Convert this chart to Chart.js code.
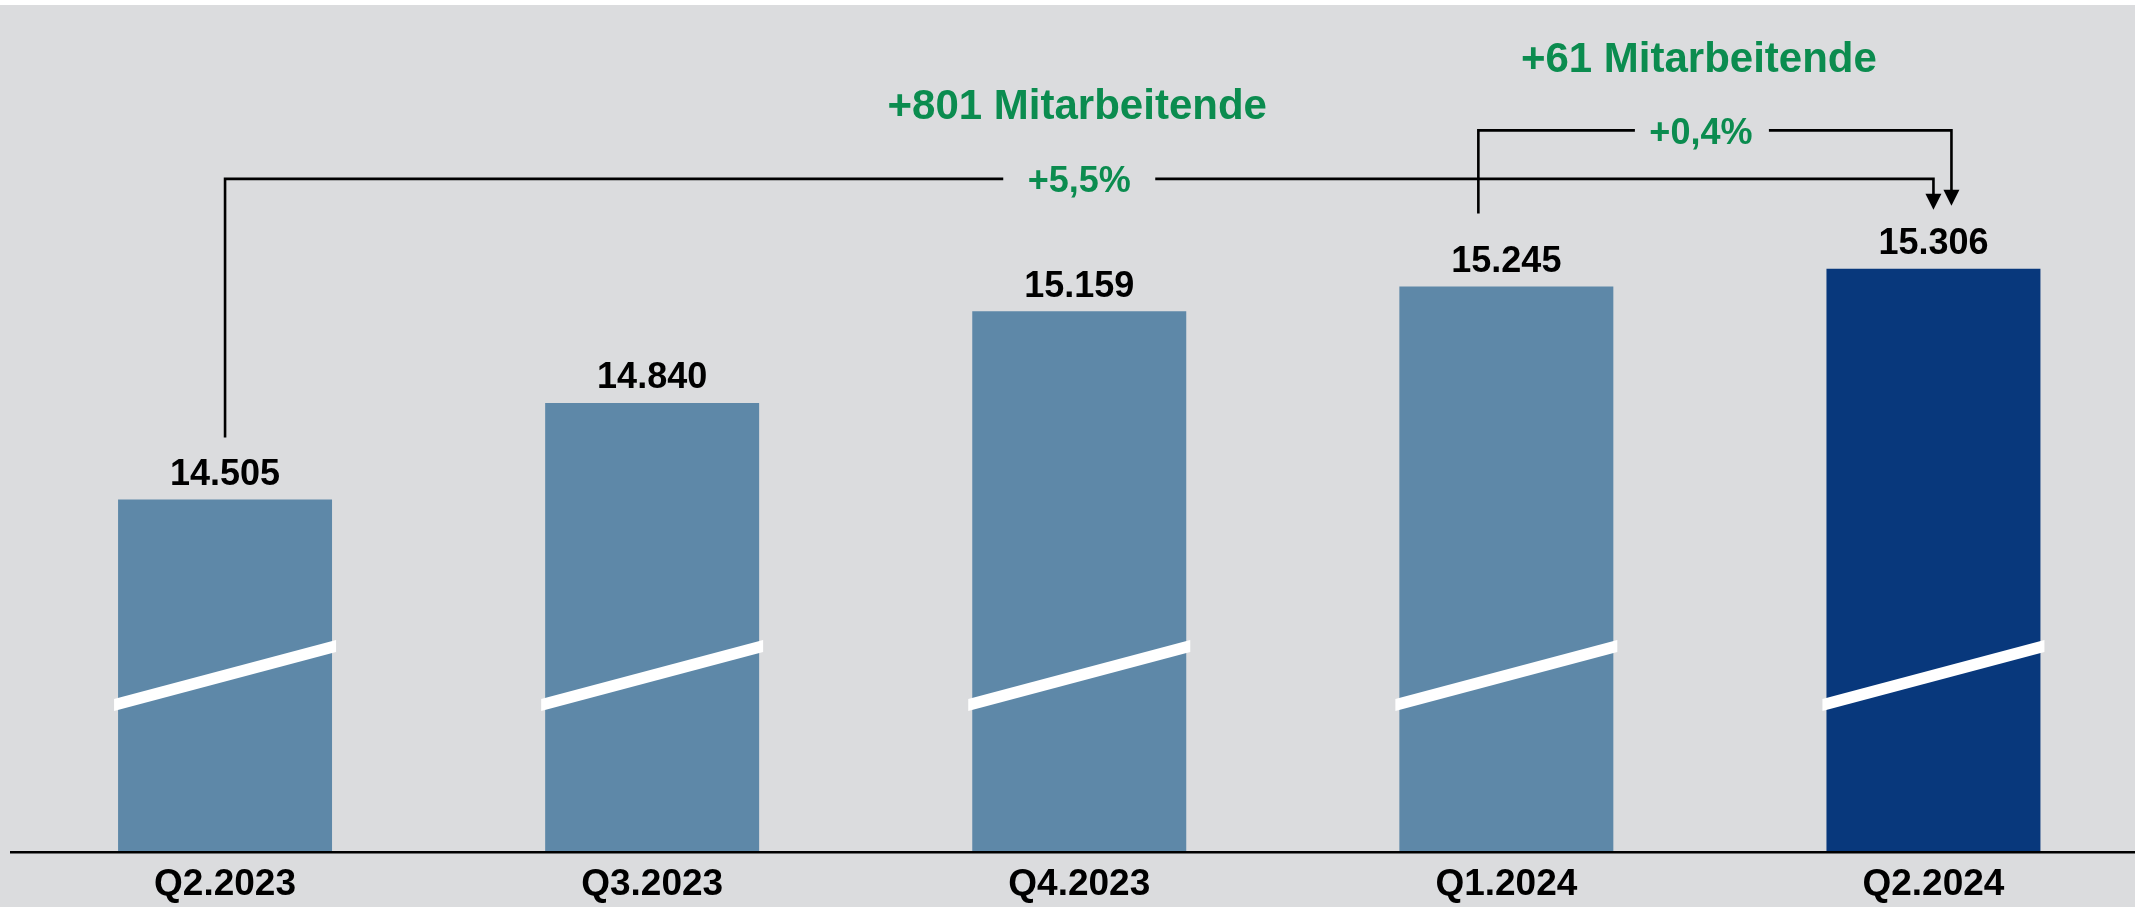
<!DOCTYPE html>
<html>
<head>
<meta charset="utf-8">
<script src="https://cdn.jsdelivr.net/npm/chart.js@4.4.0/dist/chart.umd.min.js"></script>
<style>
html, body { margin: 0; padding: 0; overflow: hidden; background: #DBDCDE; }
canvas { display: block; }
</style>
</head>
<body>
<canvas id="myChart" width="2147" height="918"></canvas>
<script>
const quarters = ['Q2.2023', 'Q3.2023', 'Q4.2023', 'Q1.2024', 'Q2.2024'];
const employees = [14505, 14840, 15159, 15245, 15306];
const barColors = ['#5E88A8', '#5E88A8', '#5E88A8', '#5E88A8', '#08387C'];
// axis is broken (white slashes), bars start well above zero
const yMin = 13280;
const yMax = 16240;

const green = '#0B8C4F';
const family = "'Liberation Sans', Arial, sans-serif";

function fmtInt(n) {
    return String(n).replace(/\B(?=(\d{3})+(?!\d))/g, '.');
}
function fmtPct(a, b) {
    return '+' + ((b - a) / a * 100).toFixed(1).replace('.', ',') + '%';
}

const bgPlugin = {
    id: 'bg',
    beforeDraw(chart) {
        const ctx = chart.ctx;
        ctx.save();
        ctx.fillStyle = '#fff';
        ctx.fillRect(0, 0, chart.width, 5);
        ctx.fillStyle = '#DBDCDE';
        ctx.fillRect(0, 5, chart.width, chart.height - 5);
        ctx.restore();
    }
};

function arrowHead(ctx, x, tipY) {
    ctx.beginPath();
    ctx.moveTo(x - 8, tipY - 16);
    ctx.lineTo(x + 8, tipY - 16);
    ctx.lineTo(x, tipY);
    ctx.closePath();
    ctx.fill();
}

const extras = {
    id: 'extras',
    afterDatasetsDraw(chart) {
        const ctx = chart.ctx;
        const bars = chart.getDatasetMeta(0).data;
        const bottom = chart.chartArea.bottom;
        ctx.save();

        // break marks
        ctx.fillStyle = '#fff';
        bars.forEach(b => {
            const l = b.x - b.width / 2 - 4, r = b.x + b.width / 2 + 4;
            ctx.beginPath();
            ctx.moveTo(l, bottom - 153);
            ctx.lineTo(r, bottom - 212);
            ctx.lineTo(r, bottom - 200);
            ctx.lineTo(l, bottom - 141);
            ctx.closePath();
            ctx.fill();
        });

        // value labels
        ctx.fillStyle = '#000';
        ctx.font = 'bold 36px ' + family;
        ctx.textAlign = 'center';
        ctx.textBaseline = 'alphabetic';
        bars.forEach((b, i) => ctx.fillText(fmtInt(employees[i]), b.x, b.y - 14.5));

        const first = bars[0], prev = bars[3], last = bars[4];
        const topY = last.y;
        ctx.strokeStyle = '#000';
        ctx.lineWidth = 2.6;

        // year-on-year bracket
        const y1 = topY - 90;
        const mid1 = (first.x + last.x) / 2;
        ctx.beginPath();
        ctx.moveTo(first.x, first.y - 62);
        ctx.lineTo(first.x, y1);
        ctx.lineTo(mid1 - 76, y1);
        ctx.moveTo(mid1 + 76, y1);
        ctx.lineTo(last.x, y1);
        ctx.lineTo(last.x, topY - 73);
        ctx.stroke();
        arrowHead(ctx, last.x, topY - 59);

        // quarter-on-quarter bracket
        const y2 = topY - 138.5;
        const xl = prev.x - 28, xr = last.x + 18;
        const mid2 = (xl + xr) / 2 - 14;
        ctx.beginPath();
        ctx.moveTo(xl, prev.y - 73);
        ctx.lineTo(xl, y2);
        ctx.lineTo(mid2 - 66, y2);
        ctx.moveTo(mid2 + 68, y2);
        ctx.lineTo(xr, y2);
        ctx.lineTo(xr, topY - 77);
        ctx.stroke();
        arrowHead(ctx, xr, topY - 63);

        ctx.fillStyle = green;
        ctx.font = 'bold 36px ' + family;
        ctx.fillText(fmtPct(employees[0], employees[4]), mid1, y1 + 13.4);
        ctx.fillText(fmtPct(employees[3], employees[4]), mid2, y2 + 13.4);

        ctx.font = 'bold 42px ' + family;
        ctx.fillText('+' + (employees[4] - employees[0]) + ' Mitarbeitende', mid1 - 2, y1 - 60);
        ctx.fillText('+' + (employees[4] - employees[3]) + ' Mitarbeitende', mid2 - 2, y2 - 58.5);

        ctx.restore();
    }
};

const myChart = new Chart(document.getElementById('myChart'), {
    type: 'bar',
    data: {
        labels: quarters,
        datasets: [{
            data: employees,
            backgroundColor: barColors,
            borderWidth: 0,
            barPercentage: 1,
            categoryPercentage: 0.501
        }]
    },
    options: {
        responsive: false,
        animation: false,
        layout: { padding: { left: 11.5, right: 0, top: 0, bottom: 0 } },
        plugins: {
            legend: { display: false },
            tooltip: { enabled: false }
        },
        scales: {
            x: {
                grid: { display: false, drawTicks: false },
                border: { display: true, color: '#000', width: 2.5, z: 1 },
                ticks: {
                    color: '#000',
                    font: { family: family, size: 37, weight: 'bold', lineHeight: 1 },
                    padding: 14.5,
                    maxRotation: 0,
                    autoSkip: false
                }
            },
            y: { display: false, min: yMin, max: yMax }
        }
    },
    plugins: [bgPlugin, extras]
});
</script>
</body>
</html>
